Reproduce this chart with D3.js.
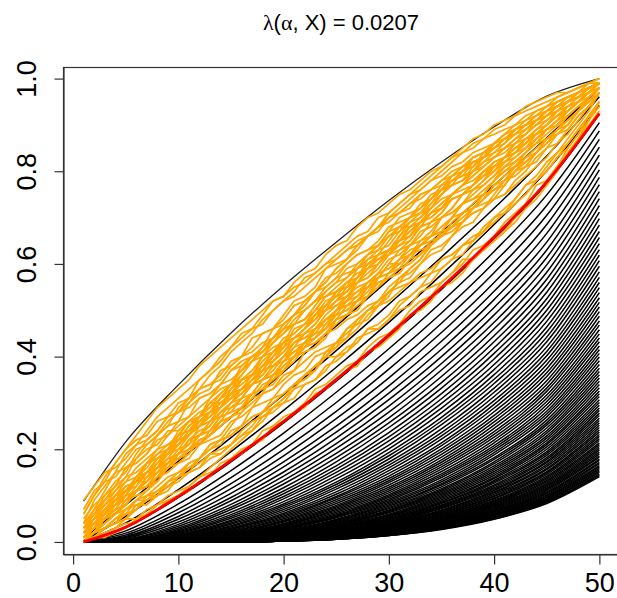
<!DOCTYPE html>
<html>
<head>
<meta charset="utf-8">
<script src="https://cdn.jsdelivr.net/npm/d3@7"></script>
<style>
  body { margin: 0; background: #fff; }
  svg { display: block; }
</style>
</head>
<body>
<div id="chart"></div>
<script>
// Title pieces and axis ticks.
const titleValue = "0.0207";
const xTicks = [0, 10, 20, 30, 40, 50];
const yTicks = [0, 0.2, 0.4, 0.6, 0.8, 1.0];

// x positions where the smooth curves were read.
const curveX = [1, 5, 10, 15, 20, 25, 30, 35, 40, 45, 50];
// Upper band (thin black) and lower band (red).
const upperBand = [0.088, 0.216, 0.339, 0.451, 0.553, 0.647, 0.737, 0.820, 0.896, 0.962, 1.000];
const lowerBand = [0.000, 0.032, 0.098, 0.176, 0.260, 0.351, 0.447, 0.549, 0.658, 0.777, 0.925];

// Black level curves, value x1000. One row per curveX position, one column per curve.
const levelRows = [
  [9,3,1,0,0,0,0,0,0,0, 0,0,0,0,0,0,0,0,0,0, 0,0,0,0,0,0,0,0,0,0, 0,0,0,0,0,0,0,0,0,0, 0,0,0,0,0,0,0,0,0,0, 0,0,0,0,0,0,0,0,0,0, 0,0,0,0,0,0,0,0,0,0, 0,0,0,0,0,0,0,0,0,0, 0,0,0,0,0,0,0,0,0,0, 0,0,0,0,0,0,0,0],
  [80,55,41,31,24,19,15,12,10,8, 6,5,4,3,3,2,2,2,1,1, 1,1,1,0,0,0,0,0,0,0, 0,0,0,0,0,0,0,0,0,0, 0,0,0,0,0,0,0,0,0,0, 0,0,0,0,0,0,0,0,0,0, 0,0,0,0,0,0,0,0,0,0, 0,0,0,0,0,0,0,0,0,0, 0,0,0,0,0,0,0,0,0,0, 0,0,0,0,0,0,0,0],
  [174,137,113,96,82,71,63,55,49,43, 38,34,30,27,24,22,20,18,16,14, 13,12,11,9,9,8,7,6,6,5, 5,4,4,4,3,3,3,2,2,2, 2,2,2,1,1,1,1,1,0,0, 0,0,0,0,0,0,0,0,0,0, 0,0,0,0,0,0,0,0,0,0, 0,0,0,0,0,0,0,0,0,0, 0,0,0,0,0,0,0,0,0,0, 0,0,0,0,0,0,0,0],
  [269,225,195,173,154,139,126,115,105,96, 89,81,75,70,64,59,55,51,47,44, 41,38,35,33,30,28,27,25,23,22, 20,19,17,16,15,14,13,13,12,11, 10,9,9,8,8,7,7,6,6,5, 5,5,5,4,4,4,3,3,3,3, 3,2,2,2,2,2,2,2,2,1, 1,1,1,1,1,1,1,1,1,1, 1,1,1,1,0,0,0,0,0,0, 0,0,0,0,0,0,0,0],
  [367,318,284,257,235,216,200,186,173,162, 151,142,133,125,117,110,104,98,93,87, 82,78,74,70,66,62,59,56,53,50, 47,45,43,40,38,36,35,33,31,29, 28,27,26,24,23,22,20,19,19,18, 17,16,15,14,14,13,12,12,11,11, 10,10,9,9,8,8,7,7,7,6, 6,6,5,5,5,5,4,4,4,4, 4,4,3,3,3,3,3,3,2,2, 2,2,2,2,2,2,2,2],
  [466,413,377,347,323,301,282,266,250,237, 224,212,202,191,182,173,164,157,150,143, 136,129,124,119,114,108,103,98,95,91, 87,83,79,76,73,70,67,64,61,58, 56,54,52,49,47,46,44,42,40,39, 37,36,34,33,31,30,29,28,27,25, 24,23,23,22,21,20,19,18,18,17, 16,16,15,14,14,13,13,12,12,11, 11,10,10,10,9,9,9,8,8,8, 7,7,7,6,6,6,6,6],
  [566,513,474,443,417,394,373,354,337,321, 307,293,280,268,257,247,236,227,218,209, 201,193,186,179,172,166,160,154,148,142, 137,132,128,123,118,114,110,106,102,99, 96,92,89,86,83,80,77,74,72,69, 67,65,63,60,58,56,55,53,51,49, 48,46,44,43,41,40,39,37,36,35, 34,33,31,30,29,28,28,27,26,25, 24,23,23,22,21,20,20,19,18,18, 17,17,16,15,15,14,14,14],
  [668,615,577,545,518,494,472,452,433,416, 400,385,371,357,344,332,320,309,299,289, 279,269,261,253,244,236,229,222,214,208, 201,195,189,183,177,172,167,162,157,152, 147,143,139,134,130,126,123,119,115,112, 109,106,103,100,97,94,91,88,85,83, 80,78,76,74,72,69,68,66,64,62, 60,58,57,55,53,52,50,49,47,46, 45,43,42,41,40,39,38,37,35,34, 34,33,32,31,30,29,28,27],
  [770,720,685,654,627,603,581,560,541,523, 506,490,474,460,445,432,419,407,395,383, 372,361,351,342,332,323,314,305,297,289, 281,273,266,259,252,245,238,232,226,220, 214,208,203,198,193,188,182,178,173,169, 164,160,156,152,148,144,140,137,133,130, 127,123,120,117,114,111,108,106,103,100, 98,95,93,90,88,86,84,82,80,78, 76,74,72,70,68,67,65,63,62,60, 59,57,56,54,53,52,50,49],
  [872,833,801,774,749,726,705,685,666,647, 630,614,598,582,567,553,539,525,513,500, 488,476,464,453,442,432,421,411,402,392, 383,374,365,357,348,340,332,325,317,310, 303,296,289,282,276,270,263,257,252,246, 240,235,229,224,219,214,210,205,200,195, 191,187,182,178,174,171,167,163,159,156, 152,149,146,142,139,136,133,130,127,124, 121,119,116,114,111,108,106,104,101,99, 97,95,93,91,89,87,85,83],
  [980,961,942,923,905,887,869,852,835,819, 803,787,771,756,741,726,712,698,684,670, 657,644,631,619,607,595,583,571,560,549, 538,527,517,507,497,487,477,468,458,449, 440,432,423,415,407,399,391,383,375,368, 361,354,347,340,333,326,320,314,307,301, 295,289,284,278,273,267,262,257,252,247, 242,237,232,228,223,219,214,210,206,202, 198,194,190,186,183,179,176,172,169,165, 162,159,156,153,150,147,144,141]
];

// Orange sample paths, value x100, one value per x = 1..50.
const orangeRuns = [
  [2,3,6,10,11,13,17,18,19,23,26,26,28,31,34,35,36,40,42,43,47,48,50,53,54,55,59,61,62,65,68,68,70,73,76,77,78,81,83,84,86,89,90,91,93,95,96,97,99,99],
  [0,2,3,4,7,8,8,10,13,14,15,18,21,22,23,25,29,30,31,34,36,37,40,41,42,46,48,50,51,53,57,58,60,63,64,66,69,71,72,75,78,79,81,84,87,88,90,93,96,98],
  [4,7,9,12,16,17,19,22,23,26,27,31,32,34,37,39,40,42,46,47,49,52,54,55,57,60,62,63,64,67,70,71,72,74,77,78,79,82,83,85,86,88,89,91,93,94,95,97,98,99],
  [1,1,3,5,6,7,10,11,12,14,16,17,19,20,21,24,26,27,28,30,33,34,35,38,39,41,44,45,46,48,51,53,55,56,59,61,62,65,68,70,71,74,77,79,82,84,87,90,93,97],
  [3,5,6,9,12,13,15,18,20,21,24,25,28,31,32,35,36,38,41,44,45,47,50,51,53,56,58,59,62,63,66,68,69,72,74,75,77,80,81,83,85,86,88,91,92,94,95,96,98,99],
  [6,10,13,14,17,20,21,23,26,28,29,31,32,34,37,38,40,41,43,46,47,48,50,53,54,56,57,60,61,63,65,66,68,71,72,74,75,77,80,81,83,85,86,88,90,92,94,95,97,99],
  [1,2,5,7,8,11,12,14,17,18,20,21,23,26,27,28,31,32,33,36,37,39,41,42,43,46,47,48,51,52,54,56,57,58,61,62,64,66,67,70,71,73,75,78,80,83,85,88,92,95],
  [0,1,1,3,4,4,6,8,9,10,11,13,14,17,18,19,21,24,25,27,28,30,33,34,36,38,39,42,44,45,47,50,52,53,56,58,60,63,64,66,69,71,73,77,78,81,85,88,91,94],
  [7,11,13,17,20,22,23,26,27,28,31,33,34,35,38,40,41,43,44,47,49,50,52,55,57,58,59,62,64,66,67,69,71,72,75,77,78,80,82,84,85,87,88,90,92,93,95,96,97,99],
  [2,4,5,8,9,12,15,16,17,20,21,23,26,27,28,31,34,35,36,39,42,43,44,47,50,51,52,55,57,58,61,63,64,66,68,70,73,74,75,78,80,81,84,86,87,89,92,94,95,98],
  [1,3,6,8,9,11,14,16,18,19,22,24,25,28,30,33,35,36,39,42,44,46,49,50,54,56,57,61,63,64,67,70,71,74,76,77,80,82,83,86,88,89,91,92,94,95,96,97,98,99],
  [0,2,3,4,6,7,10,10,12,13,15,16,19,19,21,23,25,28,29,31,34,36,37,41,43,44,48,50,51,54,56,57,60,62,63,66,68,69,72,74,75,78,80,83,85,86,89,92,94,97],
  [3,5,7,10,12,13,17,19,20,24,26,27,31,33,34,38,40,41,44,46,47,50,52,53,55,57,59,60,62,63,65,67,69,70,72,74,75,77,79,81,83,85,86,88,90,92,93,95,97,98],
  [1,2,5,6,8,11,12,14,17,18,20,23,24,26,29,30,32,35,36,38,40,42,43,45,46,48,49,51,52,54,55,56,58,59,61,62,64,65,67,69,71,73,75,78,80,83,86,89,92,95],
  [2,4,7,8,10,13,13,15,18,18,20,22,23,26,27,29,32,33,36,39,41,42,46,49,51,52,56,59,61,62,66,69,70,72,75,78,79,80,83,86,87,88,90,92,93,94,95,97,98,99],
  [1,2,3,5,6,9,9,11,13,14,17,18,20,21,24,25,27,28,31,32,34,35,37,40,40,42,43,46,46,48,50,51,54,55,56,58,61,61,63,65,67,69,72,74,77,80,84,87,91,95],
  [4,6,9,11,14,15,17,20,21,23,26,28,29,32,34,36,39,40,43,45,47,48,51,54,56,57,60,62,63,66,68,70,71,73,75,77,78,80,82,83,85,87,88,90,92,93,95,96,98,99],
  [1,3,4,6,9,10,11,13,16,17,18,21,22,23,26,27,29,32,33,35,37,41,42,44,48,49,51,53,57,58,60,62,64,66,70,71,73,75,77,79,81,83,85,87,89,91,93,95,97,99],
  [3,7,11,15,16,18,20,21,24,24,26,27,30,30,32,33,36,37,38,40,43,44,46,48,50,53,54,56,58,61,62,64,67,68,70,72,75,76,78,80,82,84,85,87,89,91,93,95,97,98],
  [0,2,4,6,8,11,12,15,17,19,21,25,26,28,30,32,34,37,38,40,42,45,46,48,50,52,54,55,57,60,60,62,64,66,67,70,71,72,74,77,78,80,82,84,86,88,90,93,95,97],
  [3,4,6,9,11,13,14,17,19,20,23,25,26,29,31,33,34,36,39,41,43,45,47,50,52,54,56,58,60,62,64,66,69,71,73,75,77,79,81,83,84,86,88,90,91,93,95,96,98,99],
  [0,1,3,4,5,8,9,10,13,15,16,18,21,22,25,28,30,32,36,37,40,43,44,46,50,51,53,56,57,60,63,64,66,69,70,72,75,76,78,81,82,84,87,88,90,93,94,96,97,99],
  [2,5,8,10,11,14,17,18,20,23,24,25,27,30,31,32,35,37,38,40,43,44,45,48,49,50,52,55,56,57,59,62,63,64,67,68,69,72,75,76,77,80,83,84,86,89,90,93,96,98],
  [1,3,6,7,8,11,12,13,16,19,20,21,24,27,28,29,32,33,34,37,40,41,42,45,48,49,50,53,56,57,58,61,64,66,67,70,73,74,75,78,81,82,84,87,89,90,93,95,97,99],
  [5,8,10,12,16,17,19,23,25,26,30,32,33,37,38,40,44,45,46,49,52,53,55,59,60,61,64,66,67,70,71,72,75,76,77,79,81,82,83,85,87,88,89,91,93,94,95,97,98,99],
  [1,2,5,7,8,11,14,15,16,19,22,23,24,27,30,31,32,35,38,39,40,43,45,46,48,51,52,53,55,58,59,60,62,65,66,67,69,72,73,74,77,80,81,82,85,88,89,92,94,97],
  [2,3,6,9,11,12,15,18,19,21,24,27,28,29,32,35,36,37,40,43,44,46,49,52,53,54,57,60,61,62,65,68,69,70,72,75,76,77,79,82,83,84,86,88,89,91,93,95,96,98],
  [0,1,3,4,5,7,9,10,11,14,15,16,18,19,21,23,24,26,29,30,31,34,35,37,40,41,43,46,47,49,52,53,55,58,59,61,64,65,67,70,72,74,77,78,81,84,86,89,92,95],
  [3,6,8,10,13,14,16,19,21,22,25,27,29,31,34,35,37,40,41,43,45,47,49,51,54,55,57,59,62,63,65,67,69,71,73,75,77,79,81,83,85,87,89,91,92,94,95,97,98,99],
  [1,3,5,6,8,11,12,14,16,18,19,22,23,25,27,29,32,33,35,37,39,42,43,45,47,49,52,53,55,57,58,61,62,64,66,68,71,72,74,76,78,81,82,84,87,89,91,93,96,98],
  [2,5,8,11,13,16,18,20,23,25,27,29,31,34,35,37,40,41,43,45,48,50,52,54,56,59,60,62,64,67,68,70,72,75,76,78,80,83,84,86,88,90,91,93,94,96,97,98,99,100],
  [0,2,3,5,7,9,11,14,15,17,19,22,23,25,27,29,31,34,35,38,40,42,44,46,49,50,52,54,57,58,60,62,65,66,68,70,73,74,76,78,81,82,84,86,89,90,92,94,96,98],
  [1,3,4,6,7,9,10,12,14,15,17,18,20,22,23,25,27,28,30,32,34,36,38,40,42,44,46,49,51,54,56,59,61,64,66,69,71,73,75,78,80,82,84,86,88,90,92,94,96,98],
  [2,4,7,8,10,14,15,16,19,22,23,25,28,29,31,35,36,37,40,43,44,46,49,50,52,55,56,57,60,63,64,65,68,69,71,74,75,77,79,80,83,84,86,89,90,92,94,95,97,99],
  [1,4,5,7,10,11,13,16,17,19,22,23,25,28,29,31,34,35,37,40,41,43,46,47,49,52,53,55,58,59,61,64,65,67,70,71,73,76,77,79,82,83,85,88,89,91,94,95,97,99],
  [3,5,7,9,11,14,15,17,20,21,23,26,27,29,32,33,35,38,39,41,44,45,47,50,51,53,56,57,59,62,63,65,68,69,71,74,75,77,80,81,83,86,87,89,91,93,95,96,98,99],
  [2,5,9,12,14,18,21,23,25,29,31,33,36,38,41,43,45,48,50,52,54,57,58,60,62,64,66,67,70,71,73,75,76,78,79,81,82,84,85,86,88,89,90,92,93,94,96,97,98,99],
  [4,9,12,15,19,21,24,27,29,31,33,35,37,40,42,44,46,47,50,52,53,55,57,59,61,63,64,66,68,69,71,73,74,76,78,79,81,83,84,85,87,88,90,91,92,94,95,96,98,99],
  [1,3,5,8,11,13,15,18,20,22,25,27,30,32,34,37,39,42,44,47,49,51,54,56,59,61,63,66,68,70,72,74,76,78,80,82,84,86,87,89,90,92,93,94,95,96,97,98,99,99],
  [6,10,14,17,20,23,26,29,31,33,35,38,40,42,44,46,48,50,52,53,55,56,58,60,61,63,65,66,68,70,71,73,75,76,78,80,81,83,84,86,87,89,90,91,93,94,95,97,98,99],
  [0,1,2,3,5,5,7,8,10,11,12,14,15,16,18,20,21,22,25,26,28,29,32,33,35,37,38,41,42,44,46,49,50,52,55,56,58,61,63,65,67,70,73,75,78,81,84,87,90,93],
  [3,6,10,13,15,19,22,24,27,30,31,35,37,39,42,45,46,49,52,53,56,58,59,62,64,65,68,70,71,73,75,76,78,80,81,83,84,85,87,88,89,90,92,93,94,95,96,97,98,99],
  [0,1,1,2,3,5,6,7,9,10,12,14,16,18,20,22,24,27,29,31,33,36,38,40,43,45,47,50,52,55,57,59,61,64,66,68,70,72,74,77,79,81,83,85,87,89,91,93,95,97],
  [2,3,7,9,10,14,15,16,20,22,23,27,28,29,33,35,36,39,41,42,46,47,48,51,53,54,57,59,60,63,65,66,69,71,72,75,77,78,80,82,83,85,87,88,90,92,93,95,97,99],
  [1,2,4,6,9,11,13,16,18,21,23,26,28,31,33,36,39,41,44,46,49,51,54,56,59,61,64,66,68,71,73,75,77,79,81,83,85,87,88,90,91,92,94,95,96,97,97,98,99,100],
  [2,4,6,8,11,13,15,17,19,21,24,26,28,30,32,34,36,38,40,42,44,46,48,50,52,53,55,56,58,59,61,62,64,65,66,68,69,71,72,74,75,77,79,81,83,86,88,91,94,97],
  [9,12,15,16,18,21,22,24,27,28,30,33,34,36,39,40,42,45,46,48,51,52,54,57,58,60,62,63,65,68,69,70,73,74,76,79,80,81,84,85,87,89,90,91,93,95,96,97,98,99]
];

const W = 617, H = 598;
const font = "'Liberation Sans', Arial, Helvetica, sans-serif";

const svg = d3.select("#chart").append("svg")
  .attr("width", W)
  .attr("height", H);

// plot box: x extends 4% beyond 1..50, right edge falls outside the window
const x = d3.scaleLinear().domain([-0.96, 51.96]).range([63, 620]);
const y = d3.scaleLinear().domain([-0.026, 1.025]).range([554, 67]);

const smooth = d3.line()
  .x(d => x(d[0]))
  .y(d => y(d[1]))
  .curve(d3.curveMonotoneX);

const jagged = d3.line()
  .x(d => x(d[0]))
  .y(d => y(d[1]));

// level curves, one per column of levelRows
const nLevels = levelRows[0].length;
const levels = d3.range(nLevels).map(k => curveX.map((xv, r) => [xv, levelRows[r][k] / 1000]));

svg.append("g")
  .selectAll("path")
  .data(levels)
  .join("path")
  .attr("d", smooth)
  .attr("fill", "none")
  .attr("stroke", "#000")
  .attr("stroke-width", 1.5);

// upper band
svg.append("path")
  .datum(curveX.map((xv, i) => [xv, upperBand[i]]))
  .attr("d", smooth)
  .attr("fill", "none")
  .attr("stroke", "#222")
  .attr("stroke-width", 1.3);

// orange sample paths
svg.append("g")
  .selectAll("path")
  .data(orangeRuns.map(run => run.map((v, i) => [i + 1, v / 100])))
  .join("path")
  .attr("d", jagged)
  .attr("fill", "none")
  .attr("stroke", "#FFA500")
  .attr("stroke-width", 1.7)
  .attr("stroke-linejoin", "round");

// lower band in red
svg.append("path")
  .datum(curveX.map((xv, i) => [xv, lowerBand[i]]))
  .attr("d", smooth)
  .attr("fill", "none")
  .attr("stroke", "#FF0000")
  .attr("stroke-width", 2.8);

// box
svg.append("rect")
  .attr("x", 63.5).attr("y", 67.5)
  .attr("width", 620 - 63).attr("height", 554 - 67)
  .attr("fill", "none")
  .attr("stroke", "#333")
  .attr("stroke-width", 1.2);

// axes, R style
const xAxis = svg.append("g")
  .attr("transform", "translate(0,554.5)")
  .call(d3.axisBottom(x).tickValues(xTicks).tickSize(10).tickSizeOuter(0).tickFormat(d3.format("d")));
xAxis.selectAll(".tick text")
  .attr("y", 18)
  .attr("dy", "0.71em")
  .style("font-family", font)
  .style("font-size", "27px")
  .attr("fill", "#000");

const yAxis = svg.append("g")
  .attr("transform", "translate(63.5,0)")
  .call(d3.axisLeft(y).tickValues(yTicks).tickSize(9).tickSizeOuter(0).tickFormat(d3.format(".1f")));
yAxis.selectAll(".tick text")
  .attr("x", null)
  .attr("dy", null)
  .attr("text-anchor", "middle")
  .attr("transform", "translate(-28,0) rotate(-90)")
  .style("font-family", font)
  .style("font-size", "27px")
  .attr("fill", "#000");

svg.selectAll(".domain, .tick line").attr("stroke", "#333").attr("stroke-width", 1.2);

// title: λ(α, X) = value
const title = svg.append("text")
  .attr("x", 341)
  .attr("y", 30)
  .attr("text-anchor", "middle")
  .style("font-family", font)
  .style("font-size", "22px")
  .attr("fill", "#000");
title.append("tspan").style("font-family", "'Liberation Serif', serif").text("λ");
title.append("tspan").text("(");
title.append("tspan").style("font-family", "'Liberation Serif', serif").text("α");
title.append("tspan").text(", X) = " + titleValue);
</script>
</body>
</html>
